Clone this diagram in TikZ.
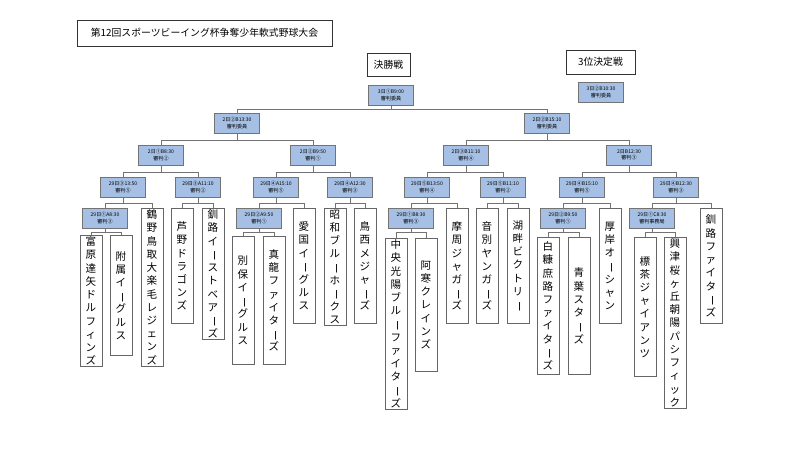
\documentclass[tikz,border=0pt]{standalone}
\usepackage{fontspec}
\setmainfont{Noto Sans CJK JP}
\usepackage{graphicx}
\usetikzlibrary{calc}
\def\L{\rotatebox[origin=c]{-90}{ー}}
\tikzset{
  match/.style={draw=black!55,fill={rgb,255:red,165;green,192;blue,228},minimum width=1.12cm,
    minimum height=0.5cm,inner sep=0pt,align=center,font=\fontsize{3.6}{4.6}\selectfont},
  team/.style={draw=black!60,line width=0.6pt,fill=white,anchor=north,minimum width=0.55cm,
    inner sep=1pt,align=center,font=\fontsize{7.5}{9.4}\selectfont},
  label/.style={draw=black!80,inner sep=3pt,font=\fontsize{7}{8}\selectfont},
  conn/.style={draw=black!55,line width=0.5pt}
}
% parent, left child, right child, drop
\newcommand\pair[4]{\draw[conn] (#2.north) |- ($(#1.south)+(0,#4)$) -| (#3.north);
  \draw[conn] (#1.south) -- ++(0,#4);}
\begin{document}
\begin{tikzpicture}[x=0.025cm,y=-0.025cm]
\useasboundingbox (0,0) rectangle (800,450);
\node[label,minimum width=6.37cm,minimum height=0.65cm] (title) at (204.5,33) {第12回スポーツビーイング杯争奪少年軟式野球大会};
\node[label,minimum width=1.08cm,minimum height=0.58cm] (fin) at (388.5,64.5) {決勝戦};
\node[label,minimum width=1.72cm,minimum height=0.6cm] (third) at (600.5,62) {3位決定戦};
% matches
\node[match] (F) at (391,95) {3日①B9:00\\審判委員};
\node[match] (T) at (601,92) {3日②B10:30\\審判委員};
\node[match] (SL) at (237,123) {2日②B13:30\\審判委員};
\node[match] (SR) at (547,123) {2日②B15:10\\審判委員};
\node[match] (Q1) at (161,155) {2日①B8:30\\審判②};
\node[match] (Q2) at (313,155) {2日②B9:50\\審判①};
\node[match] (Q3) at (466,155) {2日③B11:10\\審判④};
\node[match] (Q4) at (629,155) {2日B12:30\\審判③};
\node[match] (R1) at (123,187) {29日③13:50\\審判⑤};
\node[match] (R2) at (198,187) {29日③A11:10\\審判②};
\node[match] (R3) at (276,187) {29日④A15:10\\審判⑤};
\node[match] (R4) at (350,187) {29日④A12:30\\審判③};
\node[match] (R5) at (427,187) {29日⑤B13:50\\審判④};
\node[match] (R6) at (503,187) {29日⑤B11:10\\審判②};
\node[match] (R7) at (582,187) {29日④B15:10\\審判⑤};
\node[match] (R8) at (676,187) {29日④B12:30\\審判③};
\node[match] (P1) at (105,218) {29日①A8:30\\審判③};
\node[match] (P2) at (259,218) {29日②A9:50\\審判①};
\node[match] (P3) at (411,218) {29日①B8:30\\審判③};
\node[match] (P4) at (563,218) {29日②B9:50\\審判①};
\node[match] (P5) at (652,218) {29日①C8:30\\審判事務局};
% teams
\node[team,minimum height=3cm] (t1) at (91,235) {富\\原\\達\\矢\\ド\\ル\\フ\\ィ\\ン\\ズ};
\node[team,minimum height=3cm] (t2) at (121,235) {附\\属\\イ\\\L\\グ\\ル\\ス};
\node[team,minimum height=3.48cm] (t3) at (152,208) {鶴\\野\\鳥\\取\\大\\楽\\毛\\レ\\ジ\\ェ\\ン\\ズ};
\node[team,minimum height=2.88cm] (t4) at (182,208) {芦\\野\\ド\\ラ\\ゴ\\ン\\ズ};
\node[team,minimum height=2.88cm] (t5) at (213,208) {釧\\路\\イ\\\L\\ス\\ト\\ベ\\ア\\\L\\ズ};
\node[team,minimum height=3.2cm] (t6) at (243,236) {別\\保\\イ\\\L\\グ\\ル\\ス};
\node[team,minimum height=3.2cm] (t7) at (274,236) {真\\龍\\フ\\ァ\\イ\\タ\\\L\\ズ};
\node[team,minimum height=2.88cm] (t8) at (304,208) {愛\\国\\イ\\\L\\グ\\ル\\ス};
\node[team,minimum height=2.88cm] (t9) at (335,208) {昭\\和\\ブ\\ル\\\L\\ホ\\\L\\ク\\ス};
\node[team,minimum height=2.88cm] (t10) at (365,208) {鳥\\西\\メ\\ジ\\ャ\\\L\\ズ};
\node[team,minimum height=4cm] (t11) at (396,238) {中\\央\\光\\陽\\ブ\\ル\\\L\\フ\\ァ\\イ\\タ\\\L\\ズ};
\node[team,minimum height=3.32cm] (t12) at (426,238) {阿\\寒\\ク\\レ\\イ\\ン\\ズ};
\node[team,minimum height=2.88cm] (t13) at (457,208) {摩\\周\\ジ\\ャ\\ガ\\\L\\ズ};
\node[team,minimum height=2.88cm] (t14) at (487,208) {音\\別\\ヤ\\ン\\ガ\\\L\\ズ};
\node[team,minimum height=2.88cm] (t15) at (518,208) {湖\\畔\\ビ\\ク\\ト\\リ\\\L};
\node[team,minimum height=3.42cm] (t16) at (548,237) {白\\糠\\庶\\路\\フ\\ァ\\イ\\タ\\\L\\ズ};
\node[team,minimum height=3.42cm] (t17) at (579,237) {青\\葉\\ス\\タ\\\L\\ズ};
\node[team,minimum height=2.88cm] (t18) at (610,208) {厚\\岸\\オ\\\L\\シ\\ャ\\ン};
\node[team,minimum height=3.48cm] (t19) at (645,237) {標\\茶\\ジ\\ャ\\イ\\ア\\ン\\ツ};
\node[team,minimum height=3.88cm] (t20) at (675,237) {興\\津\\桜\\ヶ\\丘\\朝\\陽\\パ\\シ\\フ\\ィ\\ッ\\ク};
\node[team,minimum height=2.88cm] (t21) at (711,208) {釧\\路\\フ\\ァ\\イ\\タ\\\L\\ズ};
% connectors
\pair{F}{SL}{SR}{4}
\pair{SL}{Q1}{Q2}{7}
\pair{SR}{Q3}{Q4}{7}
\pair{Q1}{R1}{R2}{7}
\pair{Q2}{R3}{R4}{7}
\pair{Q3}{R5}{R6}{7}
\pair{Q4}{R7}{R8}{7}
\pair{R1}{P1}{t3}{6}
\pair{R2}{t4}{t5}{6}
\pair{R3}{P2}{t8}{6}
\pair{R4}{t9}{t10}{6}
\pair{R5}{P3}{t13}{6}
\pair{R6}{t14}{t15}{6}
\pair{R7}{P4}{t18}{6}
\pair{R8}{P5}{t21}{6}
\pair{P1}{t1}{t2}{4}
\pair{P2}{t6}{t7}{4}
\pair{P3}{t11}{t12}{4}
\pair{P4}{t16}{t17}{4}
\pair{P5}{t19}{t20}{4}
\end{tikzpicture}
\end{document}
